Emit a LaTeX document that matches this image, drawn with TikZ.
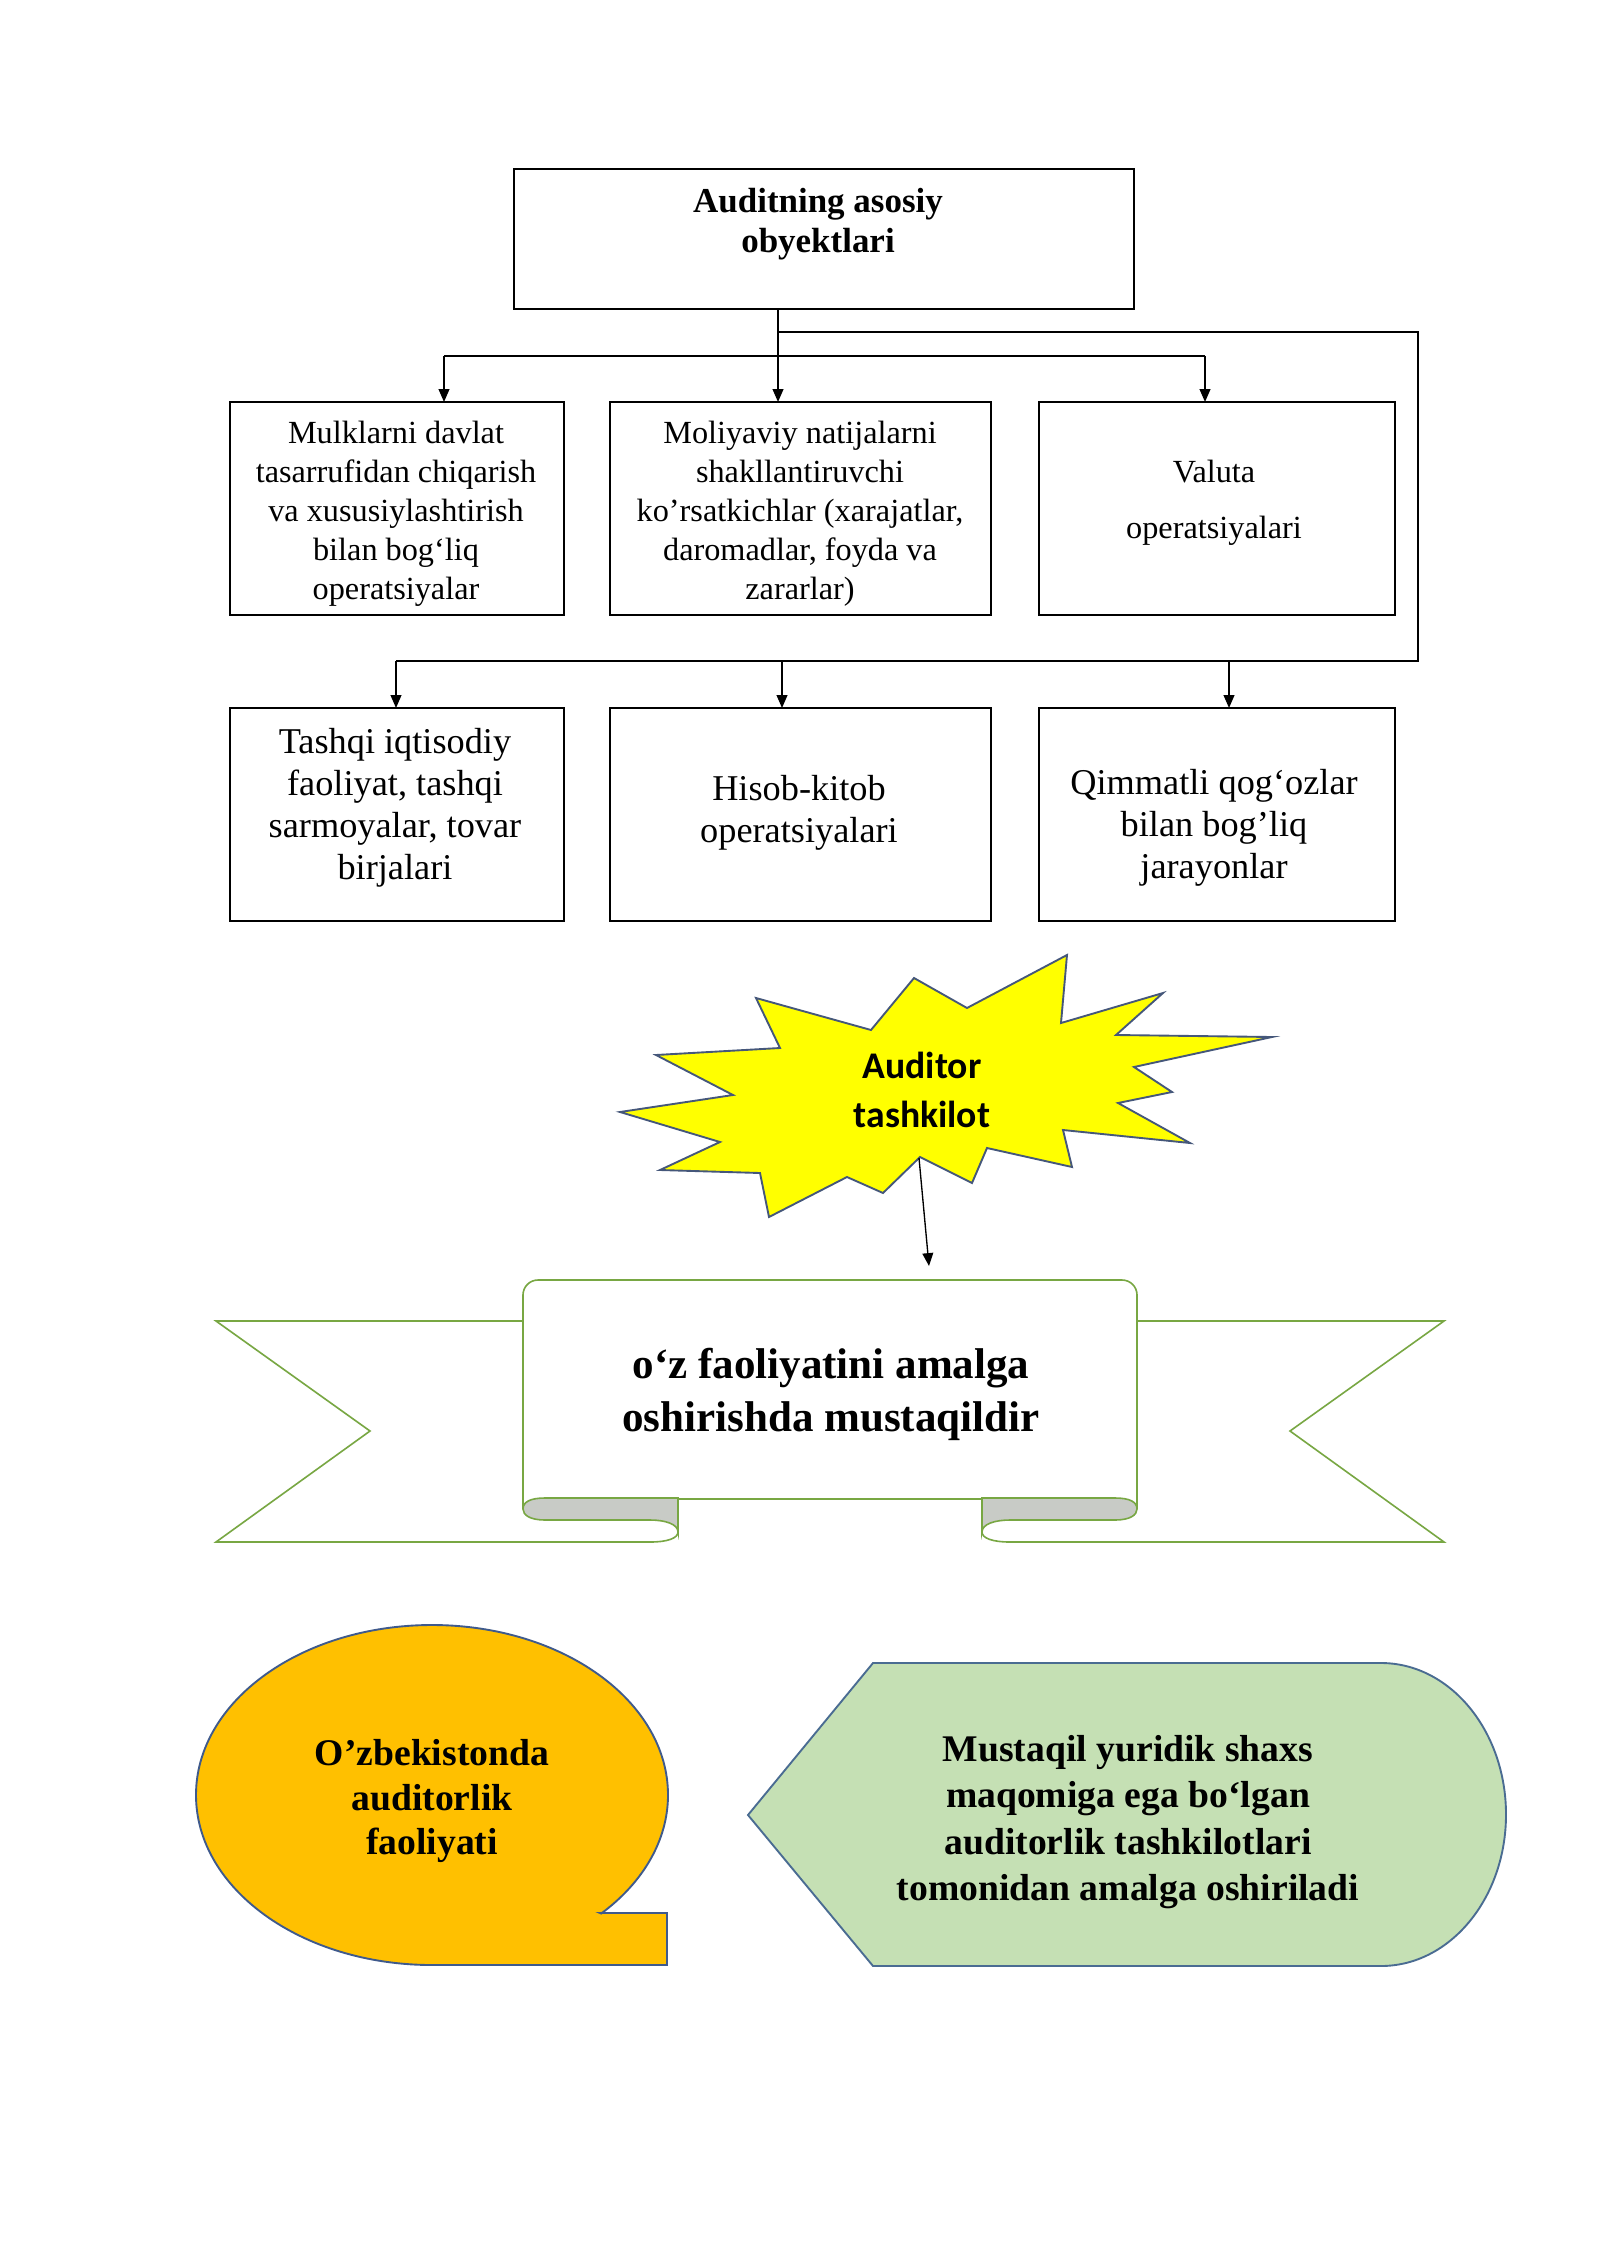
\documentclass[tikz,border=0pt]{standalone}
\usepackage{fontspec}
\setmainfont{Liberation Serif}
\newfontfamily\calfont{Carlito}
\usetikzlibrary{arrows.meta}
\definecolor{ribgreen}{HTML}{78A743}
\definecolor{foldgray}{HTML}{C8CBC6}
\definecolor{staredge}{HTML}{45577A}
\definecolor{starfill}{HTML}{FFFF00}
\definecolor{ovalfill}{HTML}{FFC000}
\definecolor{ovaledge}{HTML}{3F5A8C}
\definecolor{dispfill}{HTML}{C5E0B4}
\definecolor{dispedge}{HTML}{4A6C92}
\def\pu{0.371875pt}
\tikzset{
  box/.style={draw=black, line width=0.8pt, fill=white, inner sep=0pt, outer sep=0pt},
  conn/.style={draw=black, line width=0.6pt},
  arr/.style={draw=black, line width=0.6pt, -{Triangle[length=4.8pt,width=4pt]}},
  txta/.style={align=center, inner sep=0pt, font=\fontsize{12}{14.5}\selectfont},
  txtb/.style={align=center, inner sep=0pt, font=\fontsize{13.5}{15.6}\selectfont},
  txttop/.style={align=center, inner sep=0pt, font=\fontsize{13}{15}\selectfont\bfseries},
  ribline/.style={draw=ribgreen, line width=0.6pt},
}
\begin{document}
\begin{tikzpicture}[x=0.371875pt, y=-0.371875pt]
\fill[white] (0,0) rectangle (1600,2262);
\useasboundingbox (0,0) rectangle (1600,2262);

% ---------- top box and rows ----------
\node[box, minimum width=620*\pu, minimum height=140*\pu] (top) at (824,239) {};
\node[txttop] (toptxt) at (818,224) {Auditning asosiy\\obyektlari};

\node[box, minimum width=334*\pu, minimum height=213*\pu] (b1) at (397,508.5) {};
\node[box, minimum width=381*\pu, minimum height=213*\pu] (b2) at (800.5,508.5) {};
\node[box, minimum width=356*\pu, minimum height=213*\pu] (b3) at (1217,508.5) {};
\node[box, minimum width=334*\pu, minimum height=213*\pu] (b4) at (397,814.5) {};
\node[box, minimum width=381*\pu, minimum height=213*\pu] (b5) at (800.5,814.5) {};
\node[box, minimum width=356*\pu, minimum height=213*\pu] (b6) at (1217,814.5) {};

\node[txta] (t1) at (396,514) {Mulklarni davlat\\tasarrufidan chiqarish\\va xususiylashtirish\\bilan bog‘liq\\operatsiyalar};
\node[txta] (t2) at (800,514) {Moliyaviy natijalarni\\shakllantiruvchi\\ko’rsatkichlar (xarajatlar,\\daromadlar, foyda va\\zararlar)};
\node[txta, font=\fontsize{12}{20.8}\selectfont] (t3) at (1214,503) {Valuta\\operatsiyalari};
\node[txtb] (t4) at (395,808) {Tashqi iqtisodiy\\faoliyat, tashqi\\sarmoyalar, tovar\\birjalari};
\node[txtb] (t5) at (799,813) {Hisob-kitob\\operatsiyalari};
\node[txtb] (t6) at (1214,828) {Qimmatli qog‘ozlar\\bilan bog’liq\\jarayonlar};

% ---------- connectors ----------
\coordinate (tr) at (778,309);
\coordinate (h1l) at (444,356);
\coordinate (h1r) at (1205,356);
\coordinate (h2a) at (778,332);
\coordinate (rc) at (1418,332);
\coordinate (rd) at (1418,661);
\coordinate (a4) at (396,661);
\coordinate (a5) at (782,661);
\coordinate (a6) at (1229,661);
\draw[arr] (tr) -- (tr |- b2.north);
\draw[conn] (h1l) -- (h1r);
\draw[arr] (h1l) -- (h1l |- b1.north);
\draw[arr] (h1r) -- (h1r |- b3.north);
\draw[conn] (h2a) -- (rc) -- (rd) -- (a4);
\draw[arr] (a4) -- (a4 |- b4.north);
\draw[arr] (a5) -- (a5 |- b5.north);
\draw[arr] (a6) -- (a6 |- b6.north);

% ---------- star ----------
\filldraw[fill=starfill, draw=staredge, line width=0.7pt, line join=miter]
 (1067,955) -- (1061,1023) -- (1163,993) -- (1116,1035) -- (1272,1037) -- (1134,1067)
 -- (1172,1092) -- (1118,1103) -- (1190,1143) -- (1063,1130) -- (1072,1167) -- (987,1148)
 -- (972,1183) -- (920,1157) -- (883,1193) -- (847,1177) -- (769,1217) -- (760,1173)
 -- (660,1170) -- (720,1142) -- (620,1112) -- (733,1095) -- (656,1055) -- (780,1048)
 -- (756,998) -- (871,1030) -- (914,978) -- (967,1008) -- cycle;
\node[align=center, inner sep=0pt, font=\fontsize{14}{18}\selectfont\calfont\bfseries] (star) at (922,1090) {Auditor\\tashkilot};
\coordinate (sa) at (919,1158);
\coordinate (sb) at (929,1266);
\draw[arr, line width=0.5pt] (sa) -- (sb);

% ---------- ribbon ----------
% tails
\draw[ribline, line join=miter] (523,1321) -- (216,1321) -- (370,1431) -- (216,1542) -- (650,1542);
\draw[ribline, line join=miter] (1137,1321) -- (1444,1321) -- (1290,1431) -- (1444,1542) -- (1010,1542);
% panel
\path[fill=white] (523,1509) -- (523,1295) arc[start angle=180, end angle=270, radius=15]
  -- (1122,1280) arc[start angle=270, end angle=360, radius=15] -- (1137,1509) -- cycle;
\draw[ribline] (523,1509) -- (523,1295) arc[start angle=180, end angle=270, radius=15]
  -- (1122,1280) arc[start angle=270, end angle=360, radius=15] -- (1137,1509);
\draw[ribline] (678,1499) -- (982,1499);
% left fold
\filldraw[fill=foldgray, draw=ribgreen, line width=0.6pt]
  (545,1498) -- (678,1498) -- (678,1532) .. controls (678,1524) and (665,1520) .. (650,1520)
  -- (545,1520) .. controls (530,1520) and (523,1515) .. (523,1509)
  .. controls (523,1502) and (530,1498) .. (545,1498) -- cycle;
\draw[ribline] (678,1532) .. controls (678,1538) and (668,1542) .. (650,1542);
% right fold
\filldraw[fill=foldgray, draw=ribgreen, line width=0.6pt]
  (1115,1498) -- (982,1498) -- (982,1532) .. controls (982,1524) and (995,1520) .. (1010,1520)
  -- (1115,1520) .. controls (1130,1520) and (1137,1515) .. (1137,1509)
  .. controls (1137,1502) and (1130,1498) .. (1115,1498) -- cycle;
\draw[ribline] (982,1532) .. controls (982,1538) and (992,1542) .. (1010,1542);
\node[align=center, inner sep=0pt, font=\fontsize{16}{19.7}\selectfont\bfseries] (rib) at (831,1394) {o‘z faoliyatini amalga\\oshirishda mustaqildir};

% ---------- bottom left oval callout ----------
\filldraw[fill=ovalfill, draw=ovaledge, line width=0.7pt]
  (600,1913) -- (667,1913) -- (667,1965) -- (432,1965)
  arc[start angle=90, end angle=404.2, x radius=236, y radius=170] -- cycle;
\node[align=center, inner sep=0pt, font=\fontsize{14}{16.4}\selectfont\bfseries] (oval) at (432,1801) {O’zbekistonda\\auditorlik\\faoliyati};

% ---------- bottom right display shape ----------
\filldraw[fill=dispfill, draw=dispedge, line width=0.7pt]
  (748,1815) -- (873,1663) -- (1381,1663)
  arc[start angle=-90, end angle=90, x radius=125, y radius=151.5] -- (873,1966) -- cycle;
\node[align=center, inner sep=0pt, font=\fontsize{14}{17.3}\selectfont\bfseries] (disp) at (1128,1822) {Mustaqil yuridik shaxs\\maqomiga ega bo‘lgan\\auditorlik tashkilotlari\\tomonidan amalga oshiriladi};
\end{tikzpicture}
\end{document}
